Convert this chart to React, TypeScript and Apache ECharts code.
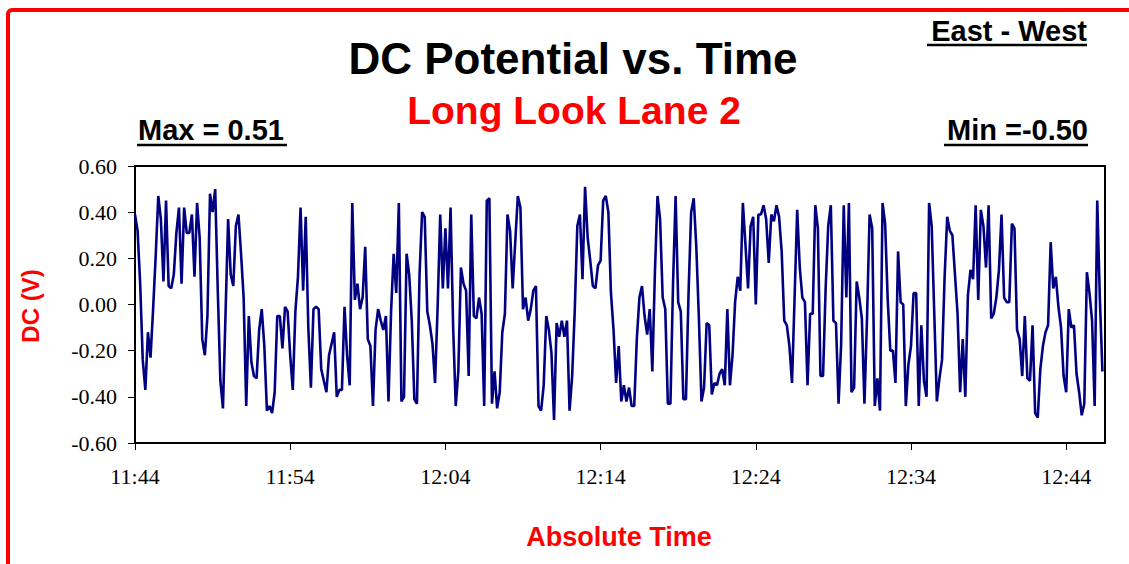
import React, { useEffect, useRef } from "react";
import * as echarts from "echarts";

// DC potential samples (V), one every 10 s starting 11:44
const samplesA = [0.39,0.32,0.09,-0.24,-0.37,-0.12,-0.23,-0.02,0.21,0.47,0.37,0.10,0.45,0.08,0.07,0.13,0.31,0.42,0.09,0.42,0.31,0.31,0.39,0.12,0.44,0.29,-0.15,-0.22,-0.05,0.48,0.40,0.50,0.06,-0.33,-0.45,-0.04,0.37,0.13,0.08,0.34,0.39,0.22,0.03,-0.44,-0.05,-0.25,-0.31,-0.32,-0.11];
const samplesB = [-0.02,-0.18,-0.46,-0.44,-0.47,-0.38,-0.05,-0.05,-0.19,-0.01,-0.03,-0.22,-0.37,-0.03,0.12,0.42,0.06,0.38,-0.10,-0.36,-0.02,-0.01,-0.02,-0.28,-0.33,-0.38,-0.22,-0.17,-0.12,-0.40,-0.37,-0.37,-0.01,-0.22,-0.35,0.44,0.02,0.09,-0.02,0.03,0.25,-0.15,-0.18,-0.44,-0.11,-0.02,-0.07];
const samplesC = [-0.11,-0.05,-0.42,-0.03,0.22,0.05,0.44,-0.42,-0.40,0.22,0.13,-0.07,-0.41,-0.43,0.13,0.40,0.38,-0.03,-0.09,-0.17,-0.34,-0.01,0.39,0.07,0.33,0.07,0.42,-0.10,-0.44,-0.29,0.16,0.09,0.06,-0.31,0.39,-0.05,-0.06,0.03,-0.04,-0.44,0.45,0.46,-0.43,-0.29,-0.45,-0.38,-0.12,-0.04,0.39];
const samplesD = [0.32,0.07,0.27,0.47,0.42,-0.02,0.03,-0.07,-0.02,0.06,0.08,-0.44,-0.46,-0.35,-0.05,-0.11,-0.21,-0.50,-0.08,-0.14,-0.07,-0.14,-0.07,-0.46,-0.31,-0.03,0.34,0.39,0.11,0.51,0.29,0.19,0.08,0.07,0.17,0.19,0.45,0.47,0.40,0.05,-0.11,-0.34,-0.18,-0.42,-0.35,-0.42,-0.36,-0.44];
const samplesE = [-0.44,-0.15,0.03,0.08,-0.05,-0.13,-0.02,-0.29,0.14,0.47,0.37,0.03,-0.02,-0.43,-0.43,0.09,0.47,0.01,-0.03,-0.41,-0.41,0.05,0.40,0.46,0.25,-0.06,-0.42,-0.36,-0.08,-0.09,-0.39,-0.34,-0.35,-0.30,-0.28,-0.35,-0.02,-0.35,-0.22,0.01,0.12,0.06,0.44,0.26,0.07,0.34,0.38,0.00,0.39];
const samplesF = [0.39,0.43,0.37,0.18,0.39,0.36,0.43,0.38,0.23,-0.07,-0.09,-0.18,-0.34,0.03,0.41,0.16,0.03,0.01,-0.35,-0.04,-0.04,0.43,0.33,-0.31,-0.31,0.07,0.34,0.43,-0.07,-0.08,-0.43,-0.17,0.43,0.03,0.44,-0.38,-0.36,0.10,0.03,-0.06,-0.43,-0.06,0.39,0.33,-0.44,-0.32,-0.46,0.44];
const samplesG = [0.35,0.02,-0.20,-0.20,-0.34,0.23,0.01,0.00,-0.44,-0.26,-0.18,0.05,0.05,-0.44,-0.09,-0.33,-0.40,0.44,0.34,-0.04,-0.42,-0.32,-0.24,0.12,0.38,0.32,0.30,0.13,-0.04,-0.38,-0.15,-0.40,0.04,0.15,0.11,0.43,0.02,0.41,0.34,0.16,0.43,-0.06,-0.04,0.03,0.15,0.39,0.03,0.01];
const samplesH = [0.01,0.35,0.33,-0.11,-0.15,-0.31,-0.05,-0.32,-0.33,-0.09,-0.47,-0.49,-0.28,-0.18,-0.12,-0.09,0.27,0.07,0.12,-0.01,-0.10,-0.31,-0.38,-0.02,-0.10,-0.09,-0.30,-0.38,-0.48,-0.43,0.14,0.05,-0.07,-0.44,0.45,0.03,-0.29];

const START_MINUTES = 11 * 60 + 44; // 11:44
const SAMPLE_SECONDS = 10;
const AXIS_END_MINUTES = 62.5;
const TICK_MINUTES = 10;

const TITLE = "DC Potential vs. Time";
const SUBTITLE = "Long Look Lane 2";
const MAX_TEXT = "Max = 0.51";
const MIN_TEXT = "Min =-0.50";
const DIRECTION = "East - West";
const Y_NAME = "DC (V)";
const X_NAME = "Absolute Time";

const SANS = '"Liberation Sans", Arial, sans-serif';
const SERIF = '"Liberation Serif", "Times New Roman", serif';

export default function App() {
  const ref = useRef<HTMLDivElement>(null);

  useEffect(() => {
    if (!ref.current) return;
    const chart = echarts.init(ref.current, undefined, { renderer: "svg" });
    const values = [
      ...samplesA, ...samplesB, ...samplesC, ...samplesD,
      ...samplesE, ...samplesF, ...samplesG, ...samplesH,
    ];
    const data = values.map((v, i) => [(i * SAMPLE_SECONDS) / 60, v]);
    const fmtTime = (v: number) => {
      if (Math.abs(v % TICK_MINUTES) > 1e-6) return "";
      const t = START_MINUTES + v;
      const h = Math.floor(t / 60);
      const m = Math.round(t % 60);
      return `${h}:${m < 10 ? "0" + m : m}`;
    };

    chart.setOption({
      animation: false,
      backgroundColor: "#ffffff",
      grid: {
        left: 135,
        top: 166,
        right: 24,
        bottom: 121,
        show: true,
        borderColor: "#000",
        borderWidth: 2,
        backgroundColor: "transparent",
      },
      xAxis: {
        type: "value",
        min: 0,
        max: AXIS_END_MINUTES,
        interval: TICK_MINUTES,
        axisLine: { show: true, onZero: false, lineStyle: { color: "#000", width: 2 } },
        axisTick: { show: true, inside: false, length: 7, lineStyle: { color: "#000", width: 1 } },
        splitLine: { show: false },
        axisLabel: {
          showMaxLabel: false,
          formatter: fmtTime,
          color: "#000",
          fontFamily: SERIF,
          fontSize: 22,
          margin: 22,
        },
      },
      yAxis: {
        type: "value",
        min: -0.6,
        max: 0.6,
        interval: 0.2,
        axisLine: { show: true, lineStyle: { color: "#000", width: 2 } },
        axisTick: { show: true, inside: false, length: 7, lineStyle: { color: "#000", width: 1 } },
        splitLine: { show: false },
        axisLabel: {
          formatter: (v: number) => v.toFixed(2),
          color: "#000",
          fontFamily: SERIF,
          fontSize: 22,
          margin: 18,
        },
      },
      series: [
        {
          type: "line",
          data,
          showSymbol: false,
          symbol: "none",
          lineStyle: { color: "#000080", width: 2.6 },
          clip: true,
        },
      ],
      graphic: [
        {
          type: "rect",
          shape: { x: 8, y: 10, width: 1200, height: 700, r: 4 },
          style: { fill: "none", stroke: "#ff0000", lineWidth: 4 },
          silent: true,
        },
        {
          type: "text",
          x: 573, y: 58,
          style: { text: TITLE, font: `bold 44px ${SANS}`, fill: "#000", textAlign: "center", textVerticalAlign: "middle" },
        },
        {
          type: "text",
          x: 574, y: 110,
          style: { text: SUBTITLE, font: `bold 39px ${SANS}`, fill: "#ff0000", textAlign: "center", textVerticalAlign: "middle" },
        },
        {
          type: "text",
          x: 138, y: 130,
          style: { text: MAX_TEXT, font: `bold 29px ${SANS}`, fill: "#000", textAlign: "left", textVerticalAlign: "middle" },
        },
        { type: "line", shape: { x1: 137, y1: 145, x2: 287, y2: 145 }, style: { stroke: "#000", lineWidth: 2.5 } },
        {
          type: "text",
          x: 1088, y: 130,
          style: { text: MIN_TEXT, font: `bold 29px ${SANS}`, fill: "#000", textAlign: "right", textVerticalAlign: "middle" },
        },
        { type: "line", shape: { x1: 944, y1: 145, x2: 1088, y2: 145 }, style: { stroke: "#000", lineWidth: 2.5 } },
        {
          type: "text",
          x: 1087, y: 31,
          style: { text: DIRECTION, font: `bold 29px ${SANS}`, fill: "#000", textAlign: "right", textVerticalAlign: "middle" },
        },
        { type: "line", shape: { x1: 927, y1: 45, x2: 1087, y2: 45 }, style: { stroke: "#000", lineWidth: 2.5 } },
        {
          type: "text",
          x: 30, y: 306, rotation: Math.PI / 2,
          style: { text: Y_NAME, font: `bold 24px ${SANS}`, fill: "#ff0000", textAlign: "center", textVerticalAlign: "middle" },
        },
        {
          type: "text",
          x: 619, y: 537,
          style: { text: X_NAME, font: `bold 27px ${SANS}`, fill: "#ff0000", textAlign: "center", textVerticalAlign: "middle" },
        },
      ],
    });
    return () => chart.dispose();
  }, []);

  return (
    <div
      ref={ref}
      style={{ position: "fixed", left: 0, top: 0, width: 1129, height: 564 }}
    />
  );
}
